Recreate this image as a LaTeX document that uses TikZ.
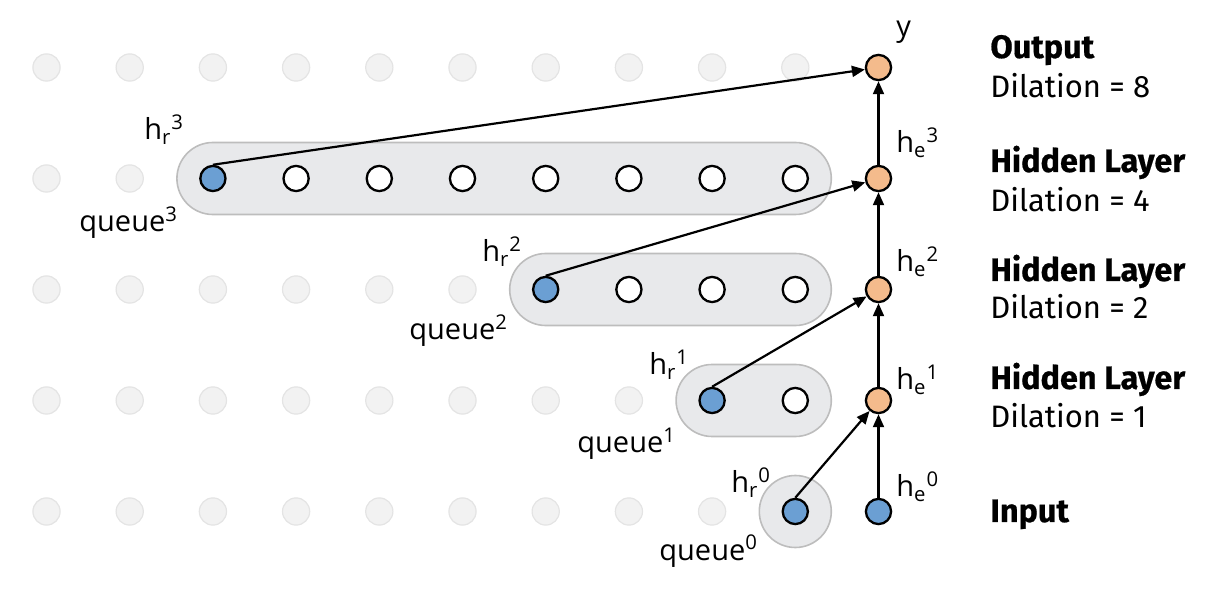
\documentclass[tikz,border=0pt]{standalone}
\usepackage{fontspec}
\setmainfont{Open Sans}
\newfontfamily\layerfont[BoldFeatures={FakeBold=0.6}]{Fira Sans}
\usetikzlibrary{positioning, arrows.meta, backgrounds}

\definecolor{recblue}{HTML}{6B9FD3}
\definecolor{encorange}{HTML}{F4BB8C}
\definecolor{dotfill}{HTML}{F2F2F2}
\definecolor{dotedge}{HTML}{E4E4E4}
\definecolor{queuefill}{HTML}{E8E9EB}
\definecolor{queueedge}{HTML}{BDBDBD}

\begin{document}
\begin{tikzpicture}[x=0.5pt, y=-0.5pt,
    unit/.style={circle, draw=black, line width=1.15pt, minimum size=12.6pt, inner sep=0pt},
    blank/.style={circle, draw=dotedge, fill=dotfill, line width=0.6pt, minimum size=13.6pt, inner sep=0pt},
    rec/.style={unit, fill=recblue},
    enc/.style={unit, fill=encorange},
    slot/.style={unit, fill=white},
    queuebox/.style={draw=queueedge, fill=queuefill, line width=0.8pt, rounded corners=18pt},
    lbl/.style={font=\fontsize{14.5}{16}\selectfont, anchor=base west, inner sep=0pt},
    layertitle/.style={font=\layerfont\bfseries\fontsize{16.2}{18}\selectfont, anchor=base west, inner sep=0pt},
    layerinfo/.style={font=\layerfont\fontsize{15.5}{18}\selectfont, anchor=base west, inner sep=0pt},
    link/.style={-{Triangle[length=6.5pt, width=5.5pt]}, line width=1.1pt}]
    \useasboundingbox (0,0) rectangle (1216,598);

    % Unused time steps
    \foreach \row/\lastcol in {0/9, 1/1, 2/5, 3/7, 4/8}
        \foreach \col in {0,...,\lastcol}
            \node[blank] (g-\row-\col) at ({46.5+83.2*\col}, {67.5+111*\row}) {};

    % Queues of past states
    \node[rec] (hr3) at (212.9,178.5) {};
    \foreach \col in {3,...,9}
        \node[slot] (q3-\col) at ({46.5+83.2*\col}, 178.5) {};
    \node[rec] (hr2) at (545.7,289.5) {};
    \foreach \col in {7,8,9}
        \node[slot] (q2-\col) at ({46.5+83.2*\col}, 289.5) {};
    \node[rec] (hr1) at (712.1,400.5) {};
    \node[slot] (q1-9) at (795.3,400.5) {};
    \node[rec] (hr0) at (795.3,511.5) {};

    \begin{scope}[on background layer]
        \draw[queuebox] ([shift={(-36,-36)}]hr3.center) rectangle ([shift={(36,36)}]q3-9.center);
        \draw[queuebox] ([shift={(-36,-36)}]hr2.center) rectangle ([shift={(36,36)}]q2-9.center);
        \draw[queuebox] ([shift={(-36,-36)}]hr1.center) rectangle ([shift={(36,36)}]q1-9.center);
        \draw[queuebox] ([shift={(-36,-36)}]hr0.center) rectangle ([shift={(36,36)}]hr0.center);
    \end{scope}

    % Current states
    \node[rec] (he0) at (878.5,511.5) {};
    \node[enc] (he1) at (878.5,400.5) {};
    \node[enc] (he2) at (878.5,289.5) {};
    \node[enc] (he3) at (878.5,178.5) {};
    \node[enc] (y)   at (878.5,67.5) {};

    % Connections
    \draw[link] (he0) -- (he1);
    \draw[link] (hr0.north) -- (he1);
    \draw[link] (he1) -- (he2);
    \draw[link] (hr1.north) -- (he2);
    \draw[link] (he2) -- (he3);
    \draw[link] (hr2.north) -- (he3);
    \draw[link] (he3) -- (y);
    \draw[link] (hr3.north) -- (y);

    % Node labels
    \node[lbl] (lbl-y)   at (896,37)  {y};
    \node[lbl] (lbl-he3) at (896,153) {h\textsubscript{e}\textsuperscript{3}};
    \node[lbl] (lbl-he2) at (896,272) {h\textsubscript{e}\textsuperscript{2}};
    \node[lbl] (lbl-he1) at (896,390) {h\textsubscript{e}\textsuperscript{1}};
    \node[lbl] (lbl-he0) at (896,497) {h\textsubscript{e}\textsuperscript{0}};
    \node[lbl] (lbl-hr3) at (144,140) {h\textsubscript{r}\textsuperscript{3}};
    \node[lbl] (lbl-hr2) at (482,262) {h\textsubscript{r}\textsuperscript{2}};
    \node[lbl] (lbl-hr1) at (649,375) {h\textsubscript{r}\textsuperscript{1}};
    \node[lbl] (lbl-hr0) at (731,493) {h\textsubscript{r}\textsuperscript{0}};
    \node[lbl] (lbl-q3)  at (79,232)  {queue\textsuperscript{3}};
    \node[lbl] (lbl-q2)  at (409,340) {queue\textsuperscript{2}};
    \node[lbl] (lbl-q1)  at (577,453) {queue\textsuperscript{1}};
    \node[lbl] (lbl-q0)  at (659,560) {queue\textsuperscript{0}};

    % Layer descriptions
    \node[layertitle] (t-out) at (990,58)  {Output};
    \node[layerinfo]  (d-out) at (990,98)  {Dilation = 8};
    \node[layertitle] (t-h3)  at (990,172) {Hidden Layer};
    \node[layerinfo]  (d-h3)  at (990,212) {Dilation = 4};
    \node[layertitle] (t-h2)  at (990,281) {Hidden Layer};
    \node[layerinfo]  (d-h2)  at (990,319) {Dilation = 2};
    \node[layertitle] (t-h1)  at (990,389) {Hidden Layer};
    \node[layerinfo]  (d-h1)  at (990,428) {Dilation = 1};
    \node[layertitle] (t-in)  at (990,522) {Input};
\end{tikzpicture}
\end{document}
